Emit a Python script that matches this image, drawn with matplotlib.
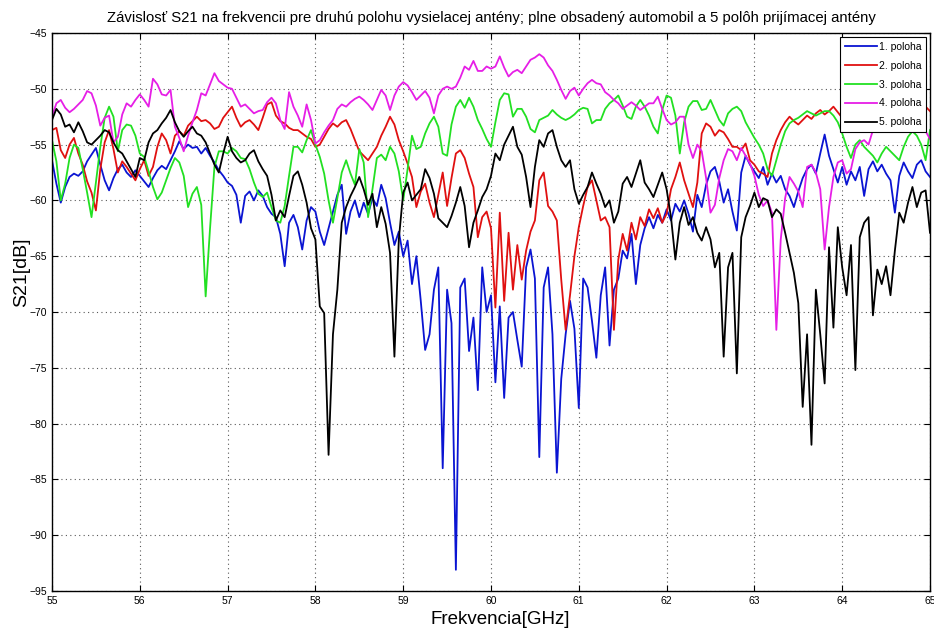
import matplotlib
matplotlib.use("Agg")
import matplotlib.pyplot as plt
import numpy as np

# frequency grid, 0.05 GHz step from 55 to 65 GHz
freq = np.round(55 + 0.05 * np.arange(201), 2)

poloha1 = [
    -56.4, -58.5, -60.2, -58.8, -57.9, -57.6, -57.8, -57.4, -56.5, -55.9, -55.3, -56.8, -58.2, -59.1, -58.0, -57.2, -56.8, -57.5, -57.9, -57.3,
    -57.8, -58.3, -58.8, -58.0, -57.3, -56.9, -57.2, -56.4, -55.6, -54.7, -55.4, -55.0, -55.3, -55.2, -55.8, -55.3, -56.0, -56.6, -57.3, -57.8,
    -58.4, -58.7, -59.5, -62.0, -59.6, -59.2, -60.0, -59.1, -59.6, -60.6, -61.2, -61.5, -63.0, -65.9, -62.0, -61.3, -62.4, -64.4, -61.8, -60.6,
    -61.0, -62.8, -64.0, -62.5, -61.0, -59.5, -58.6, -63.0, -61.0, -60.0, -61.5, -60.2, -61.2, -59.8, -60.5, -58.6, -59.8, -62.0, -64.0, -62.8,
    -65.0, -63.6, -67.5, -65.0, -69.0, -73.4, -72.0, -68.0, -66.0, -84.0, -68.0, -71.0, -93.1, -67.8, -67.0, -73.5, -70.5, -77.0, -66.0, -70.0,
    -68.5, -76.3, -69.5, -77.7, -70.5, -70.0, -72.5, -74.9, -66.0, -64.4, -67.0, -83.0, -67.8, -66.0, -72.0, -84.4, -76.0, -72.0, -69.0, -71.5,
    -78.6, -67.0, -67.8, -70.8, -74.1, -68.5, -66.0, -73.0, -68.0, -67.0, -64.5, -65.2, -63.0, -67.5, -64.0, -62.5, -61.5, -62.5, -61.3, -62.0,
    -60.8, -61.8, -60.3, -61.0, -60.0, -61.2, -62.8, -59.5, -60.6, -58.6, -57.4, -57.0, -58.3, -60.2, -59.0, -61.0, -62.7, -57.5, -56.0, -56.8,
    -57.4, -58.0, -57.0, -58.6, -57.6, -58.4, -57.8, -59.0, -59.6, -60.6, -59.2, -58.0, -57.2, -56.8, -57.6, -55.8, -54.1, -56.0, -57.2, -58.4,
    -57.0, -58.6, -57.4, -58.2, -57.0, -59.6, -57.2, -56.5, -57.4, -56.8, -57.6, -58.2, -61.1, -57.8, -56.6, -57.4, -58.0, -56.8, -56.4, -57.4,
    -57.9,
]

poloha2 = [
    -53.7, -53.5, -55.5, -56.2, -55.0, -54.4, -55.8, -56.8, -58.3, -59.3, -60.9, -57.2, -54.8, -53.7, -55.4, -57.5, -56.5, -57.0, -57.6, -58.2,
    -57.2, -56.4, -57.8, -57.0, -55.2, -54.0, -54.6, -55.8, -54.2, -53.8, -54.2, -53.3, -52.9, -52.5, -52.9, -52.8, -53.1, -53.6, -53.4, -52.6,
    -52.1, -51.6, -52.6, -53.4, -53.0, -52.8, -53.2, -53.7, -52.6, -51.4, -51.2, -52.4, -52.9, -53.1, -53.5, -53.7, -53.7, -54.0, -54.3, -54.5,
    -55.2, -55.0, -54.3, -53.6, -53.1, -53.4, -53.0, -52.8, -53.6, -54.6, -55.6, -56.0, -56.4, -55.8, -55.2, -54.2, -53.4, -52.5, -53.2, -54.6,
    -55.6, -56.7, -57.9, -60.6, -59.2, -58.5, -60.2, -61.5, -59.5, -57.5, -60.5, -58.0, -55.8, -55.5, -56.2, -57.6, -58.8, -63.3, -61.5, -61.0,
    -62.5, -69.6, -61.1, -69.0, -62.9, -68.0, -64.0, -67.1, -64.5, -62.8, -61.8, -58.2, -57.5, -60.5, -61.0, -61.8, -67.1, -71.6, -68.5, -65.0,
    -62.4, -60.5, -58.8, -58.2, -60.0, -61.8, -61.5, -62.4, -71.6, -65.3, -63.0, -64.5, -62.0, -63.5, -61.5, -62.3, -60.8, -61.6, -60.7, -62.0,
    -61.2, -59.0, -57.9, -56.6, -58.2, -59.4, -60.6, -58.4, -54.0, -53.1, -53.4, -54.2, -53.7, -53.9, -54.5, -55.2, -55.2, -55.5, -54.9, -56.4,
    -56.8, -57.4, -57.6, -57.9, -55.8, -54.6, -53.7, -53.0, -52.5, -52.9, -53.2, -52.8, -52.4, -52.7, -52.2, -51.9, -52.3, -52.0, -51.6, -52.1,
    -52.6, -52.5, -53.2, -52.6, -52.0, -52.8, -53.5, -52.9, -52.2, -51.8, -52.5, -53.0, -52.0, -51.6, -52.3, -53.0, -52.2, -51.5, -51.0, -51.6,
    -52.0,
]

poloha3 = [
    -54.6, -56.5, -60.0, -58.5, -56.2, -55.0, -55.3, -57.2, -59.3, -61.5, -58.4, -55.2, -52.6, -51.6, -52.5, -55.6, -53.7, -53.2, -53.3, -54.2,
    -55.8, -56.1, -57.4, -58.8, -59.9, -59.3, -58.2, -57.1, -56.2, -56.6, -57.8, -60.6, -59.4, -58.8, -60.4, -68.6, -62.5, -57.0, -55.6, -55.6,
    -55.8, -55.3, -55.6, -56.2, -56.3, -57.2, -58.4, -59.4, -59.7, -59.3, -60.6, -61.8, -62.0, -60.5, -57.8, -55.2, -55.2, -55.7, -54.6, -53.7,
    -55.0, -56.1, -57.6, -60.0, -62.0, -59.8, -57.5, -56.4, -57.6, -58.6, -55.4, -56.6, -61.5, -59.0, -56.2, -55.9, -56.4, -55.2, -55.8, -57.4,
    -60.0, -57.2, -54.2, -55.4, -55.2, -54.0, -53.1, -52.5, -53.4, -55.8, -56.0, -53.2, -51.6, -51.0, -51.7, -50.8, -51.6, -52.8, -53.6, -54.5,
    -55.2, -53.0, -51.0, -50.4, -50.5, -52.5, -51.8, -51.8, -52.5, -53.6, -53.9, -52.8, -52.6, -52.4, -51.9, -52.3, -52.6, -52.8, -52.6, -52.3,
    -51.9, -51.7, -51.8, -53.1, -52.8, -52.8, -51.8, -51.3, -51.0, -50.6, -51.5, -52.5, -52.7, -51.6, -51.0, -51.6, -52.4, -53.4, -54.0, -51.9,
    -50.6, -50.8, -52.4, -55.8, -53.0, -51.6, -51.1, -51.1, -51.9, -51.8, -51.0, -51.9, -52.8, -53.3, -52.2, -51.8, -51.6, -52.0, -53.0, -53.7,
    -54.4, -55.0, -55.8, -57.2, -57.8, -56.4, -55.0, -53.8, -53.1, -52.8, -52.6, -52.3, -52.0, -52.2, -52.4, -52.2, -52.0, -52.0, -52.4, -53.0,
    -54.0, -55.2, -56.2, -55.0, -54.6, -55.2, -55.6, -56.0, -56.6, -55.8, -55.2, -55.6, -56.0, -56.4, -55.2, -54.3, -53.8, -54.2, -55.0, -56.4,
    -53.7,
]

poloha4 = [
    -52.5, -51.3, -51.0, -51.7, -52.1, -51.8, -51.4, -51.0, -50.2, -50.4, -51.5, -53.3, -52.6, -52.4, -54.8, -54.3, -52.3, -51.3, -51.6, -51.0,
    -50.5, -51.0, -51.6, -49.1, -49.6, -50.5, -50.6, -50.1, -53.4, -54.4, -55.6, -54.2, -53.0, -51.9, -50.4, -50.6, -49.6, -48.6, -49.3, -49.6,
    -49.9, -50.0, -50.8, -51.6, -51.4, -51.8, -52.2, -52.0, -51.9, -51.2, -50.8, -51.3, -52.8, -53.6, -50.3, -51.6, -52.4, -53.4, -51.4, -52.8,
    -54.9, -54.6, -53.9, -53.3, -52.8, -51.8, -51.4, -51.6, -51.2, -50.9, -50.7, -51.0, -51.4, -51.9, -51.0, -50.1, -50.6, -51.9, -50.6, -49.8,
    -49.4, -49.7, -50.3, -51.0, -50.6, -50.2, -50.8, -52.2, -50.6, -50.0, -49.8, -50.0, -49.8, -49.0, -48.0, -48.3, -47.5, -48.4, -48.4, -48.0,
    -48.2, -48.0, -47.1, -48.1, -48.9, -48.5, -48.3, -48.6, -48.0, -47.4, -47.2, -46.9, -47.2, -47.9, -48.4, -49.2, -50.1, -50.9, -50.2, -49.9,
    -50.6, -50.0, -49.5, -49.2, -49.5, -49.6, -50.3, -50.6, -51.0, -51.3, -51.8, -51.5, -51.2, -51.5, -51.9, -51.6, -51.3, -51.3, -50.7, -51.8,
    -52.8, -53.2, -53.0, -52.5, -52.5, -55.0, -56.2, -55.0, -55.6, -58.0, -61.1, -60.4, -58.0, -56.4, -55.4, -55.6, -56.4, -55.3, -56.0, -56.7,
    -57.8, -59.5, -60.5, -60.0, -61.1, -71.6, -63.5, -59.8, -57.9, -58.5, -59.2, -60.6, -57.0, -56.8, -57.5, -59.0, -64.4, -60.6, -57.9, -56.6,
    -56.4, -57.6, -57.2, -55.4, -54.8, -54.6, -55.0, -53.7, -53.2, -52.6, -52.8, -52.2, -52.6, -53.0, -52.4, -52.8, -53.3, -52.9, -53.4, -53.8,
    -54.5,
]

poloha5 = [
    -52.8, -51.8, -52.3, -53.4, -53.2, -53.9, -53.0, -53.8, -54.8, -55.0, -54.6, -54.2, -53.7, -53.9, -54.8, -55.5, -55.8, -56.5, -57.2, -57.9,
    -56.2, -56.4, -54.8, -54.0, -53.7, -53.1, -52.6, -51.9, -53.0, -53.8, -54.3, -53.8, -53.4, -54.0, -54.2, -54.8, -55.8, -56.8, -57.5, -55.8,
    -54.3, -55.6, -56.2, -56.6, -56.4, -55.8, -55.5, -56.5, -57.2, -57.8, -59.5, -61.8, -60.9, -61.5, -59.6, -57.8, -57.4, -58.6, -60.2, -62.5,
    -63.5, -69.5, -70.1, -82.8, -72.0, -68.0, -62.0, -60.6, -59.6, -58.8, -57.9, -59.0, -60.4, -59.4, -62.4, -60.6, -62.1, -64.7, -74.0, -63.5,
    -59.3, -58.4, -60.0, -59.5, -59.0, -57.2, -58.0, -59.4, -61.6, -62.0, -62.4, -61.4, -60.2, -58.8, -60.5, -64.2, -62.0, -60.9, -59.7, -59.0,
    -57.8, -55.8, -56.4, -55.0, -54.2, -53.4, -55.2, -55.9, -57.9, -60.6, -57.0, -54.6, -55.2, -54.0, -53.7, -55.2, -56.4, -57.0, -56.4, -59.0,
    -60.3, -59.5, -58.8, -57.5, -58.5, -59.4, -60.6, -60.0, -62.0, -61.0, -58.5, -57.9, -58.8, -57.6, -56.4, -58.4, -59.0, -59.7, -58.6, -57.5,
    -59.0, -61.5, -65.3, -62.0, -60.6, -62.2, -61.5, -62.9, -63.6, -62.4, -63.5, -66.0, -64.7, -74.0, -66.0, -64.7, -75.5, -63.3, -61.5, -60.5,
    -59.3, -60.6, -59.8, -60.0, -61.5, -60.8, -61.2, -62.9, -64.7, -66.5, -69.2, -78.5, -72.0, -81.9, -68.0, -72.0, -76.4, -64.2, -71.4, -62.4,
    -66.0, -68.5, -64.0, -75.2, -63.3, -62.0, -61.5, -70.3, -66.2, -67.5, -65.9, -68.5, -64.5, -61.1, -62.0, -60.2, -58.8, -60.6, -59.3, -59.1,
    -62.9,
]

series = [poloha1, poloha2, poloha3, poloha4, poloha5]
labels = ["1. poloha", "2. poloha", "3. poloha", "4. poloha", "5. poloha"]
colors = ["#0a14d2", "#e01010", "#22e022", "#e61ee6", "#000000"]

for s in series:
    assert len(s) == len(freq)

font = ["Liberation Sans Narrow", "Liberation Sans", "DejaVu Sans"]
plt.rcParams["font.family"] = font

fig = plt.figure(figsize=(9.34, 6.37), dpi=100)
ax = fig.add_axes([52 / 934, 1 - 591 / 637, 878 / 934, 558 / 637])

for s, lab, c in zip(series, labels, colors):
    ax.plot(freq, s, color=c, linewidth=1.3, label=lab)

ax.set_xlim(55, 65)
ax.set_ylim(-95, -45)
ax.set_xticks(np.arange(55, 66, 1))
ax.set_yticks(np.arange(-95, -44, 5))
ax.tick_params(direction="in", top=True, right=True, labelsize=7.5, length=4)
ax.grid(True, color="0.35", linestyle=(0, (1, 3)), linewidth=0.8)
for sp in ax.spines.values():
    sp.set_linewidth(1.0)

ax.set_title("Závislosť S21 na frekvencii pre druhú polohu vysielacej antény; "
             "plne obsadený automobil a 5 polôh prijímacej antény",
             fontsize=10.7, pad=8)
ax.set_xlabel("Frekvencia[GHz]", fontsize=13.5)
ax.set_ylabel("S21[dB]", fontsize=14)
ax.xaxis.set_label_coords(0.51, -0.036)
ax.yaxis.set_label_coords(-0.025, 0.572)

leg = ax.legend(loc="upper right", fontsize=7.5, handlelength=3.0,
                fancybox=False, framealpha=1, edgecolor="black",
                borderaxespad=0.35, labelspacing=0.85, handletextpad=0.2,
                borderpad=0.5)
leg.get_frame().set_linewidth(0.8)

fig.savefig("out.png", dpi=100, facecolor="white")
